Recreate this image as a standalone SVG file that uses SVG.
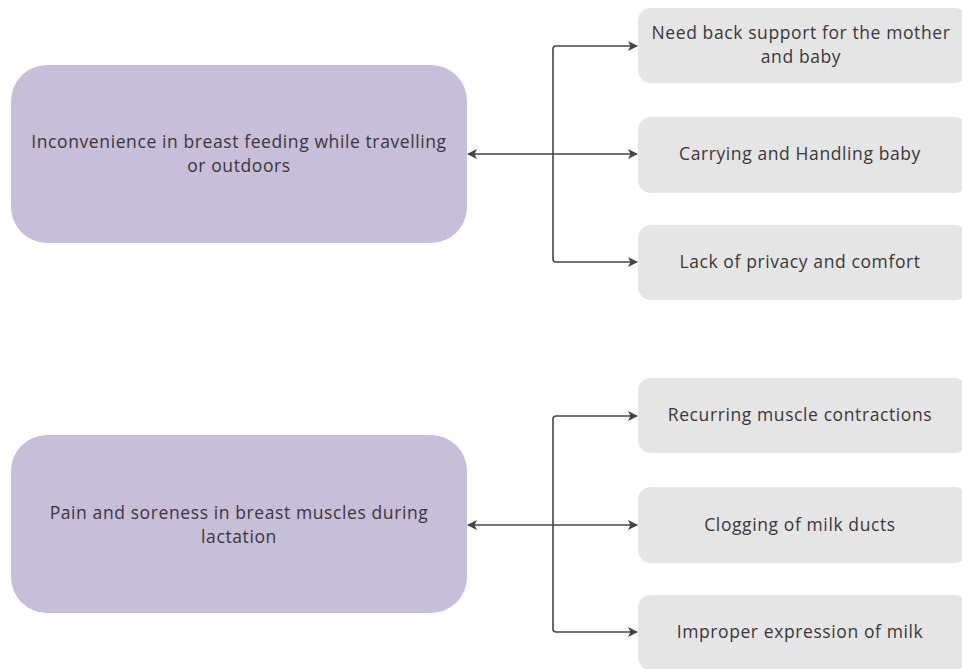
<svg xmlns="http://www.w3.org/2000/svg" width="962" height="669" viewBox="0 0 962 669">
<defs>
<style>
.main rect{fill:#c7bed9;}
.sub rect{fill:#e5e5e5;}
text{font-family:"Open Sans","Liberation Sans",sans-serif;font-size:17.5px;letter-spacing:0.6px;fill:#3b3838;text-anchor:middle;}
.conn path{fill:none;stroke:#444;stroke-width:1.6;}
</style>
<marker id="ah" viewBox="0 0 10 10" refX="9" refY="5" markerWidth="10" markerHeight="10" markerUnits="userSpaceOnUse" orient="auto-start-reverse">
<path d="M0,0 L10,5 L0,10 L2.5,5 Z" fill="#444"/>
</marker>
</defs>
<rect width="962" height="669" fill="#ffffff"/>
<g id="main1" class="main"><rect x="11" y="65" width="456" height="178" rx="36"/>
<text x="239" y="148">Inconvenience in breast feeding while travelling</text>
<text x="239" y="172">or outdoors</text></g>
<g id="main2" class="main"><rect x="11" y="435" width="456" height="178" rx="36"/>
<text x="239" y="519">Pain and soreness in breast muscles during</text>
<text x="239" y="543">lactation</text></g>
<g id="s1" class="sub"><rect x="638" y="8" width="330" height="75" rx="13"/>
<text x="801" y="39">Need back support for the mother</text>
<text x="801" y="63">and baby</text></g>
<g id="s2" class="sub"><rect x="638" y="117" width="330" height="76" rx="13"/>
<text x="800" y="160">Carrying and Handling baby</text></g>
<g id="s3" class="sub"><rect x="638" y="225" width="330" height="75" rx="13"/>
<text x="800" y="268">Lack of privacy and comfort</text></g>
<g id="s4" class="sub"><rect x="638" y="378" width="330" height="75" rx="13"/>
<text x="800" y="421">Recurring muscle contractions</text></g>
<g id="s5" class="sub"><rect x="638" y="487" width="330" height="76" rx="13"/>
<text x="800" y="531">Clogging of milk ducts</text></g>
<g id="s6" class="sub"><rect x="638" y="595" width="330" height="75" rx="13"/>
<text x="800" y="638">Improper expression of milk</text></g>
<g id="connectors" class="conn">
<path d="M637,46 H556 Q553,46 553,49 V259 Q553,262 556,262 H637" marker-start="url(#ah)" marker-end="url(#ah)"/>
<path d="M468,154 H637" marker-start="url(#ah)" marker-end="url(#ah)"/>
<path d="M637,416 H556 Q553,416 553,419 V629 Q553,632 556,632 H637" marker-start="url(#ah)" marker-end="url(#ah)"/>
<path d="M468,525 H637" marker-start="url(#ah)" marker-end="url(#ah)"/>
</g>
</svg>
